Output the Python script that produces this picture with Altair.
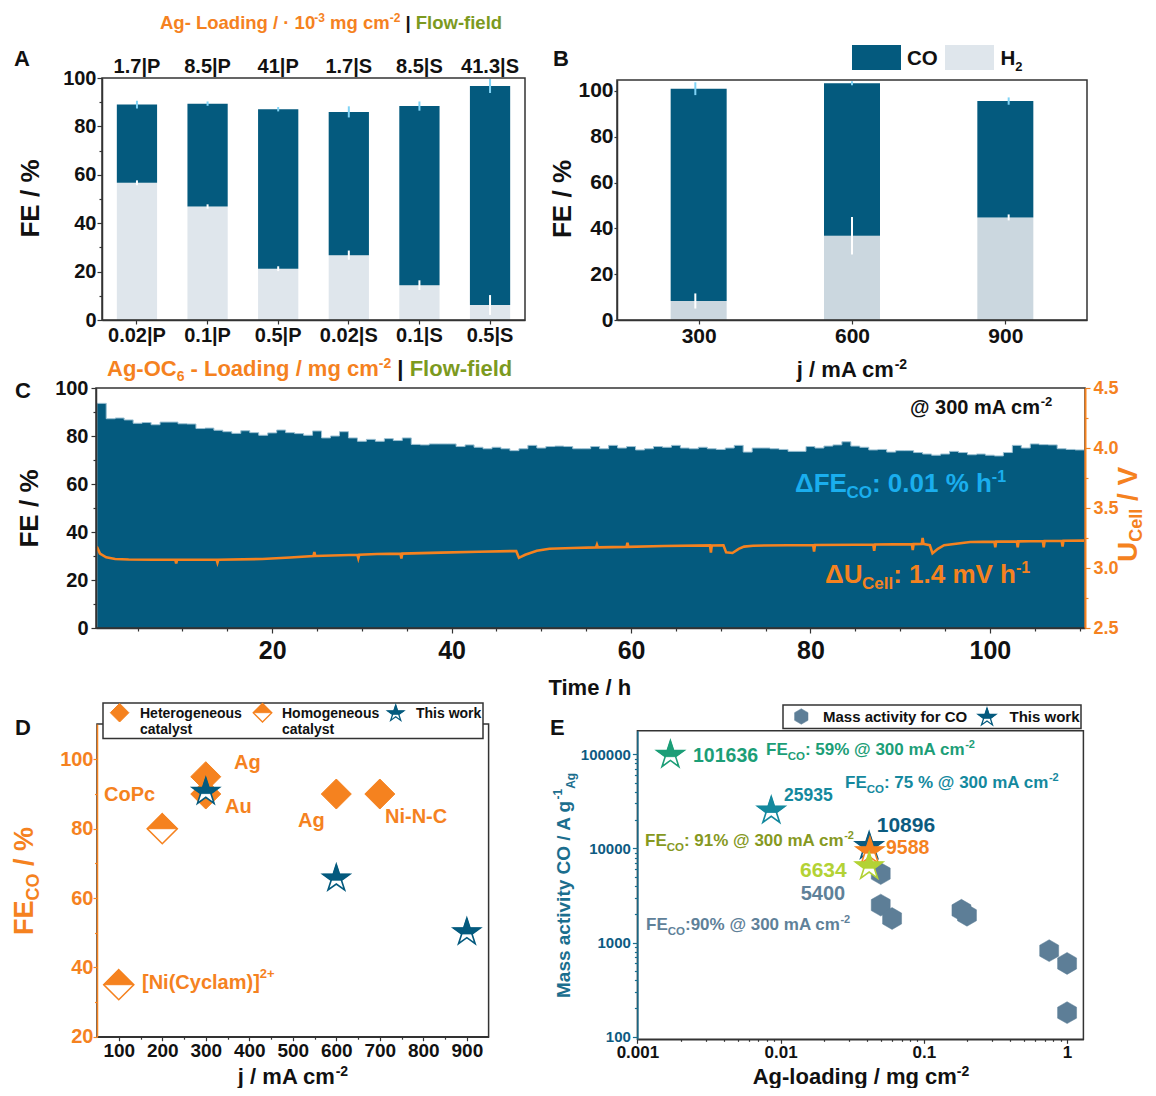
import altair as alt
import pandas as pd

# ======================= DATA =======================
# Panel A : FE vs catalyst loading | flow-field
a_cats = ["0.02|P", "0.1|P", "0.5|P", "0.02|S", "0.1|S", "0.5|S"]
a_top = ["1.7|P", "8.5|P", "41|P", "1.7|S", "8.5|S", "41.3|S"]
a_total = [89.0, 89.4, 87.1, 86.0, 88.4, 96.7]
a_total_err = [1.6, 0.9, 0.9, 2.3, 1.9, 2.9]
a_h2 = [56.7, 46.9, 21.2, 26.8, 14.4, 6.2]
a_h2_err = [1.0, 0.9, 1.0, 1.9, 2.0, 4.1]

# Panel B : FE vs current density
b_j = [300, 600, 900]
b_total = [101.0, 103.4, 95.6]
b_total_err = [2.8, 0.9, 1.6]
b_h2 = [8.3, 36.8, 44.8]
b_h2_err = [3.3, 8.2, 1.3]

# Panel C : long-term FE(CO) (1 h bins) and cell voltage
c_bin_start = 0.5
c_bin_width = 1.0
c_fe = [93.6, 87.2, 87.5, 86.7, 85.3, 85.6, 84.7, 85.8, 85.8, 85.1,
        85.0, 83.1, 83.3, 82.4, 81.8, 81.1, 82.2, 81.4, 80.3, 81.3,
        82.5, 81.4, 81.0, 80.3, 82.1, 79.2, 80.0, 81.8, 79.2, 77.8,
        78.6, 77.8, 78.9, 78.1, 79.2, 76.5, 76.3, 76.7, 76.7, 76.7,
        75.6, 76.3, 75.3, 74.7, 75.3, 74.7, 73.9, 74.7, 76.1, 75.0,
        75.6, 75.8, 75.6, 74.7, 74.7, 75.6, 74.7, 76.1, 75.0, 75.6,
        74.2, 74.7, 75.6, 75.3, 76.1, 75.0, 74.7, 75.3, 74.7, 74.4,
        75.0, 76.1, 73.3, 75.0, 75.0, 74.7, 74.4, 73.6, 73.6, 75.6,
        75.0, 75.8, 76.3, 77.6, 75.8, 75.3, 74.2, 74.4, 73.3, 73.9,
        73.9, 73.1, 72.5, 72.0, 72.5, 73.6, 73.1, 72.2, 72.5, 72.0,
        71.7, 73.1, 76.1, 75.0, 76.7, 76.4, 76.3, 74.7, 74.4, 74.2]
c_u_time = [0.45, 0.8, 1.5, 2.5, 4.0, 6.8, 9.2, 9.3, 9.4, 13.8, 13.9, 14.0,
            18.9, 22.0, 24.6, 24.7, 24.8, 29.5, 29.6, 29.7, 31.7, 34.3, 34.4,
            34.5, 38.8, 43.0, 47.2, 47.5, 48.2, 49.5, 50.9, 53.5, 56.1, 56.2,
            56.3, 59.5, 59.6, 59.7, 63.7, 68.8, 68.9, 69.0, 70.3, 70.6, 71.3,
            72.0, 72.6, 73.6, 80.3, 80.4, 80.5, 85.0, 87.0, 87.1, 87.2, 91.3,
            91.4, 91.5, 92.4, 92.5, 92.6, 93.3, 93.6, 94.2, 94.9, 97.8, 100.5,
            100.6, 100.7, 103.0, 103.1, 103.2, 105.9, 106.0, 106.1, 108.0,
            108.1, 108.2, 110.5]
c_u_volt = [3.178, 3.12, 3.089, 3.075, 3.071, 3.069, 3.069, 3.039, 3.069, 3.069,
            3.044, 3.069, 3.075, 3.088, 3.10, 3.133, 3.10, 3.11, 3.082, 3.11,
            3.117, 3.12, 3.08, 3.12, 3.128, 3.135, 3.142, 3.085, 3.11, 3.144,
            3.161, 3.167, 3.172, 3.194, 3.172, 3.176, 3.211, 3.176, 3.183, 3.188,
            3.128, 3.188, 3.189, 3.13, 3.125, 3.16, 3.178, 3.186, 3.192, 3.136,
            3.192, 3.194, 3.196, 3.144, 3.196, 3.199, 3.15, 3.199, 3.20, 3.25,
            3.20, 3.19, 3.122, 3.16, 3.19, 3.217, 3.22, 3.172, 3.22, 3.222,
            3.172, 3.222, 3.225, 3.172, 3.225, 3.227, 3.178, 3.227, 3.228]

# Panel D : literature comparison
d_het_j = [300, 300, 600, 700]
d_het_fe = [95, 90, 90, 90]
d_hom_j = [200, 100]
d_hom_fe = [80, 35]
d_this_j = [300, 600, 900]
d_this_fe = [91, 66, 50.5]

# Panel E : mass activity
e_hex_load = [0.05, 0.05, 0.06, 0.183, 0.2, 0.75, 1.0, 1.0]
e_hex_act = [5400, 2500, 1800, 2200, 1950, 820, 600, 180]
e_star_load = [0.0017, 0.0086, 0.0415, 0.042, 0.0415]
e_star_act = [101636, 25935, 10896, 9588, 6634]

# ======================= STYLE / LAYOUT =======================
FONT = "Liberation Sans"
W, H = 1140, 1080
DARK = "#045a7e"
H2A = "#dfe6ec"
H2B = "#cbd7df"
ERR_CO = "#7fd3f6"
ERR_H2 = "#ffffff"
ORANGE = "#f5821f"
OLIVE = "#7c9a1f"
LBLUE = "#1aaeee"
BLACK = "#111111"
FRAME = "#333333"
EDGE = "#9cc0d2"
E_AX = "#1b6e8e"
E_LAB = "#0d5b82"
HEXC = "#5d7e97"
GREEN = "#1c9e77"
TEAL = "#14899e"
DBLUE = "#0c5b80"
YGREEN = "#b3d235"
OLIVE2 = "#86991f"
GRAYB = "#5f8199"
e_star_colors = [GREEN, TEAL, DBLUE, ORANGE, YGREEN]

DIAMOND = "M0,-1L1,0L0,1L-1,0Z"
DIAMOND_TOP = "M-1,0L0,-1L1,0Z"
STAR = ("M0,-0.905L0.2245,-0.2135L0.9511,-0.2135L0.3633,0.2135L0.5878,0.9045"
        "L0,0.4775L-0.5878,0.9045L-0.3633,0.2135L-0.9511,-0.2135L-0.2245,-0.2135Z")
STAR_TOP = ("M0,-0.905L0.2245,-0.2135L0.9511,-0.2135L0.3633,0.2135"
            "L-0.3633,0.2135L-0.9511,-0.2135L-0.2245,-0.2135Z")
HEX = "M0,-1L0.866,-0.5L0.866,0.5L0,1L-0.866,0.5L-0.866,-0.5Z"


def P(v):
    """page pixel -> chart pixel (page has an 8px margin)"""
    return v - 8.0


# ---------- rich text helper (Arial/Liberation Sans Bold advance widths) ----------
AW = {c: 556 for c in "0123456789"}
AW.update({" ": 278, "!": 333, "%": 889, "(": 333, ")": 333, "+": 584, ",": 278,
           "-": 333, ".": 278, "/": 278, ":": 333, "@": 975, "[": 333, "]": 333,
           "|": 280, "\u00b7": 278, "\u0394": 700,
           "A": 722, "B": 722, "C": 722, "D": 722, "E": 667, "F": 611, "G": 778,
           "H": 722, "I": 278, "J": 556, "K": 722, "L": 611, "M": 833, "N": 722,
           "O": 778, "P": 667, "Q": 778, "R": 722, "S": 667, "T": 611, "U": 722,
           "V": 667, "W": 944, "X": 667, "Y": 667, "Z": 611,
           "a": 556, "b": 611, "c": 556, "d": 611, "e": 556, "f": 333, "g": 611,
           "h": 611, "i": 278, "j": 278, "k": 556, "l": 278, "m": 889, "n": 611,
           "o": 611, "p": 611, "q": 611, "r": 389, "s": 556, "t": 333, "u": 611,
           "v": 556, "w": 778, "x": 556, "y": 556, "z": 500})


def tw(s, size):
    return sum(AW.get(ch, 556) for ch in s) * size / 1000.0


RUNS = []


def run(x, y, segs, align="left", angle=0):
    segs = [tuple(s) + (0,) * (4 - len(s)) for s in segs]
    total = sum(tw(t, s) for t, s, c, sh in segs)
    pos = {"left": 0.0, "center": -total / 2.0, "right": -total}[align]
    for t, s, c, sh in segs:
        lead = len(t) - len(t.lstrip(" "))
        body = t.strip(" ")
        p = pos + tw(" " * lead, s)
        if body:
            if angle == 0:
                RUNS.append({"px": P(x + p), "py": P(y - sh), "txt": body, "fs": s, "col": c, "ang": 0})
            else:
                RUNS.append({"px": P(x - sh), "py": P(y - p), "txt": body, "fs": s, "col": c, "ang": 270})
        pos += tw(t, s)


def ax(orient, edge, values, test, size, lab_col, dom_col, major, minor, pad, label=None, dom_w=1.5):
    if orient == "left":
        off = -P(edge)
    elif orient == "right":
        off = P(edge) - W
    else:
        off = P(edge) - H
    kw = dict(orient=orient, offset=off, grid=False, title=None, labelFont=FONT,
              labelFontWeight="bold", labelFontSize=size, labelColor=lab_col,
              domainColor=dom_col, domainWidth=dom_w, tickColor=dom_col, tickWidth=1.2,
              labelPadding=pad, labelFlush=False, labelOverlap=False, labelAngle=0, zindex=1)
    if values is not None:
        kw["values"] = values
    if test:
        kw["labelExpr"] = "(" + test + ") ? " + (label or "datum.label") + " : ''"
        kw["tickSize"] = {"condition": {"test": test, "value": major}, "value": minor}
    else:
        kw["tickSize"] = major
        if label:
            kw["labelExpr"] = label
    return alt.Axis(**kw)


def pix(rows):
    return pd.DataFrame([{"px": P(x), "py": P(y)} for x, y in rows])


PX = alt.X("px:Q", scale=None, axis=None)
PY = alt.Y("py:Q", scale=None, axis=None)


def sym(rows, shape, size, fill, stroke="transparent", sw=0.0):
    return alt.Chart(pix(rows)).mark_point(shape=shape, size=size, filled=True, fill=fill,
                                           stroke=stroke, strokeWidth=sw, opacity=1).encode(x=PX, y=PY)


# ======================= PANEL A =======================
def A_X():
    return alt.Scale(type="band", domain=a_cats, range=[P(102), P(525)], paddingInner=0.43, paddingOuter=0.21)


def A_Y():
    return alt.Scale(domain=[0, 100], range=[P(320), P(78)], nice=False, zero=False)


dfa = pd.DataFrame({"cat": a_cats, "top": a_top, "tot": a_total, "h2": a_h2,
                    "z": [0] * len(a_cats)})
dfa["tlo"] = [t - e for t, e in zip(a_total, a_total_err)]
dfa["thi"] = [t + e for t, e in zip(a_total, a_total_err)]
dfa["hlo"] = [t - e for t, e in zip(a_h2, a_h2_err)]
dfa["hhi"] = [t + e for t, e in zip(a_h2, a_h2_err)]
AXA_X = ax("bottom", 320, None, None, 20, BLACK, FRAME, 4, 4, 1.5)
AXA_Y = ax("left", 102, list(range(0, 101, 10)), "datum.value % 20 === 0", 20, BLACK, FRAME, 5, 3, 1)
ba = alt.Chart(dfa)
layers_A = [
    ba.mark_bar(color=H2A).encode(x=alt.X("cat:N", scale=A_X(), axis=AXA_X),
                                  y=alt.Y("z:Q", scale=A_Y(), axis=AXA_Y), y2="h2:Q"),
    ba.mark_bar(color=DARK).encode(x=alt.X("cat:N", scale=A_X(), axis=None),
                                   y=alt.Y("h2:Q", scale=A_Y(), axis=None), y2="tot:Q"),
    ba.mark_rule(color=ERR_CO, strokeWidth=2).encode(x=alt.X("cat:N", scale=A_X(), axis=None),
                                                     y=alt.Y("tlo:Q", scale=A_Y(), axis=None), y2="thi:Q"),
    ba.mark_rule(color=ERR_H2, strokeWidth=2).encode(x=alt.X("cat:N", scale=A_X(), axis=None),
                                                     y=alt.Y("hlo:Q", scale=A_Y(), axis=None), y2="hhi:Q"),
    ba.mark_text(font=FONT, fontWeight="bold", fontSize=20, baseline="alphabetic", color=BLACK).encode(
        x=alt.X("cat:N", scale=A_X(), axis=None), y=alt.value(P(73)), text="top:N"),
]

# ======================= PANEL B =======================
def B_X():
    return alt.Scale(domain=[150, 1050], range=[P(617), P(1087)], nice=False, zero=False)


def B_Y():
    return alt.Scale(domain=[0, 104.8], range=[P(320), P(80)], nice=False, zero=False)


dfb = pd.DataFrame({"j": b_j, "tot": b_total, "h2": b_h2, "z": [0] * len(b_j)})
dfb["tlo"] = [t - e for t, e in zip(b_total, b_total_err)]
dfb["thi"] = [t + e for t, e in zip(b_total, b_total_err)]
dfb["hlo"] = [t - e for t, e in zip(b_h2, b_h2_err)]
dfb["hhi"] = [t + e for t, e in zip(b_h2, b_h2_err)]
AXB_X = ax("bottom", 320, [300, 600, 900], None, 21, BLACK, FRAME, 4, 4, 1)
AXB_Y = ax("left", 617, list(range(0, 101, 20)), None, 21, BLACK, FRAME, 3, 3, 1)
bb = alt.Chart(dfb)
layers_B = [
    bb.mark_bar(color=H2B, size=56).encode(x=alt.X("j:Q", scale=B_X(), axis=AXB_X),
                                           y=alt.Y("z:Q", scale=B_Y(), axis=AXB_Y), y2="h2:Q"),
    bb.mark_bar(color=DARK, size=56).encode(x=alt.X("j:Q", scale=B_X(), axis=None),
                                            y=alt.Y("h2:Q", scale=B_Y(), axis=None), y2="tot:Q"),
    bb.mark_rule(color=ERR_CO, strokeWidth=2).encode(x=alt.X("j:Q", scale=B_X(), axis=None),
                                                     y=alt.Y("tlo:Q", scale=B_Y(), axis=None), y2="thi:Q"),
    bb.mark_rule(color=ERR_H2, strokeWidth=2).encode(x=alt.X("j:Q", scale=B_X(), axis=None),
                                                     y=alt.Y("hlo:Q", scale=B_Y(), axis=None), y2="hhi:Q"),
]

# ======================= PANEL C =======================
def C_X():
    return alt.Scale(domain=[0.36, 110.6], range=[P(96), P(1085)], nice=False, zero=False)


def C_Y():
    return alt.Scale(domain=[0, 100], range=[P(628), P(388)], nice=False, zero=False)


def C_U():
    return alt.Scale(domain=[2.5, 4.5], range=[P(628), P(388)], nice=False, zero=False)


t_edges = [c_bin_start + c_bin_width * i for i in range(len(c_fe) + 1)]
dfc = pd.DataFrame({"t": t_edges, "fe": c_fe + [c_fe[-1]]})
AXC_X = ax("bottom", 628, list(range(5, 111, 5)), "datum.value % 20 === 0", 25, BLACK, FRAME, 5, 3, 5)
AXC_Y = ax("left", 96, list(range(0, 101, 10)), "datum.value % 20 === 0", 20, BLACK, FRAME, 5, 3, 3)
AXC_U = ax("right", 1085, [2.5 + 0.25 * i for i in range(9)],
           "abs(datum.value*2 - round(datum.value*2)) < 0.001", 18, ORANGE, ORANGE, 5, 3, 3,
           label="format(datum.value, '.1f')", dom_w=2)
dfu = pd.DataFrame({"t": c_u_time, "u": c_u_volt})
layers_C = [
    alt.Chart(dfc).mark_area(interpolate="step-after", color=DARK, opacity=1).encode(
        x=alt.X("t:Q", scale=C_X(), axis=AXC_X), y=alt.Y("fe:Q", scale=C_Y(), axis=AXC_Y)),
    alt.Chart(dfc).mark_line(interpolate="step-after", color=EDGE, strokeWidth=1).encode(
        x=alt.X("t:Q", scale=C_X(), axis=None), y=alt.Y("fe:Q", scale=C_Y(), axis=None)),
    alt.Chart(dfu).mark_line(color=ORANGE, strokeWidth=2.6).encode(
        x=alt.X("t:Q", scale=C_X(), axis=None), y=alt.Y("u:Q", scale=C_U(), axis=AXC_U)),
]

# ======================= PANEL D =======================
def D_X():
    return alt.Scale(domain=[50, 950], range=[P(97), P(488.6)], nice=False, zero=False)


def D_Y():
    return alt.Scale(domain=[20, 110.2], range=[P(1036.7), P(724)], nice=False, zero=False)


AXD_X = ax("bottom", 1036.7, list(range(100, 901, 50)), "datum.value % 100 === 0", 19, BLACK, FRAME, 4, 2.5, 0.5)
AXD_Y = ax("left", 97, list(range(20, 101, 10)), "datum.value % 20 === 0", 20, ORANGE, ORANGE, 4, 2.5, 0)
dhet = pd.DataFrame({"j": d_het_j, "fe": d_het_fe})
dhom = pd.DataFrame({"j": d_hom_j, "fe": d_hom_fe})
dthis = pd.DataFrame({"j": d_this_j, "fe": d_this_fe})


def dxy():
    return dict(x=alt.X("j:Q", scale=D_X(), axis=None), y=alt.Y("fe:Q", scale=D_Y(), axis=None))


layers_D = [
    alt.Chart(dhet).mark_point(shape=DIAMOND, size=900, filled=True, fill=ORANGE, stroke=ORANGE,
                               strokeWidth=1, opacity=1).encode(
        x=alt.X("j:Q", scale=D_X(), axis=AXD_X), y=alt.Y("fe:Q", scale=D_Y(), axis=AXD_Y)),
    alt.Chart(dhom).mark_point(shape=DIAMOND, size=900, filled=True, fill="white", stroke=ORANGE,
                               strokeWidth=1.6, opacity=1).encode(**dxy()),
    alt.Chart(dhom).mark_point(shape=DIAMOND_TOP, size=900, filled=True, fill=ORANGE, stroke=ORANGE,
                               strokeWidth=1, opacity=1).encode(**dxy()),
    alt.Chart(dthis).mark_point(shape=STAR, size=800, filled=True, fill="white", stroke=DARK,
                                strokeWidth=1.6, opacity=1).encode(**dxy()),
    alt.Chart(dthis).mark_point(shape=STAR_TOP, size=800, filled=True, fill=DARK, stroke=DARK,
                                strokeWidth=0.8, opacity=1).encode(**dxy()),
]

# ======================= PANEL E =======================
def E_X():
    return alt.Scale(type="log", domain=[0.001, 1.3], range=[P(637.4), P(1083.4)], nice=False)


def E_Y():
    return alt.Scale(type="log", domain=[93.8, 178000], range=[P(1039.3), P(730.7)], nice=False)


LOGTEST = "abs(log(datum.value)/LN10 - round(log(datum.value)/LN10)) < 0.001"
ex_vals = [float(f"{m}e{e}") for e in range(-3, 0) for m in range(1, 10)] + [1.0]
ey_vals = [float(f"{m}e{e}") for e in range(2, 5) for m in range(1, 10)] + [1e5]
AXE_X = ax("bottom", 1039.3, ex_vals, LOGTEST, 17, BLACK, FRAME, 4, 2, 1, label="format(datum.value, '~g')")
AXE_Y = ax("left", 637.4, ey_vals, LOGTEST, 15, E_LAB, E_AX, 5, 3, 2, label="format(datum.value, '~g')")
dhex = pd.DataFrame({"l": e_hex_load, "a": e_hex_act})
layers_E = [alt.Chart(dhex).mark_point(shape=HEX, size=480, filled=True, fill=HEXC, stroke=HEXC,
                                       strokeWidth=0.5, opacity=1).encode(
    x=alt.X("l:Q", scale=E_X(), axis=AXE_X), y=alt.Y("a:Q", scale=E_Y(), axis=AXE_Y))]
for i in range(len(e_star_load)):
    ds = pd.DataFrame({"l": [e_star_load[i]], "a": [e_star_act[i]]})
    col = e_star_colors[i]
    layers_E.append(alt.Chart(ds).mark_point(shape=STAR, size=820, filled=True, fill="white", stroke=col,
                                             strokeWidth=1.6, opacity=1).encode(
        x=alt.X("l:Q", scale=E_X(), axis=None), y=alt.Y("a:Q", scale=E_Y(), axis=None)))
    layers_E.append(alt.Chart(ds).mark_point(shape=STAR_TOP, size=820, filled=True, fill=col, stroke=col,
                                             strokeWidth=0.8, opacity=1).encode(
        x=alt.X("l:Q", scale=E_X(), axis=None), y=alt.Y("a:Q", scale=E_Y(), axis=None)))

# ======================= FRAMES, LEGENDS =======================
frames = [(102, 78, 525, 320), (617, 80, 1087, 320), (96, 388, 1085, 628),
          (97, 724, 488.6, 1036.7), (637.4, 730.7, 1083.4, 1039.3)]
boxes = [(103, 703, 483, 738.5), (783, 705, 1081, 728.5)]
swatches = [(852, 45, 901, 70, DARK), (945, 45, 994, 70, H2A)]


def rect_df(rows):
    return pd.DataFrame([{"x1": P(r[0]), "y1": P(r[1]), "x2": P(r[2]), "y2": P(r[3]),
                          "f": (r[4] if len(r) > 4 else "white")} for r in rows])


RX = alt.X("x1:Q", scale=None, axis=None)
RY = alt.Y("y1:Q", scale=None, axis=None)
frame_layer = alt.Chart(rect_df(frames)).mark_rect(fill="transparent", stroke=FRAME, strokeWidth=1.5).encode(
    x=RX, x2="x2:Q", y=RY, y2="y2:Q")
box_layer = alt.Chart(rect_df(boxes)).mark_rect(fill="white", stroke=FRAME, strokeWidth=1.5).encode(
    x=RX, x2="x2:Q", y=RY, y2="y2:Q")
swatch_layer = alt.Chart(rect_df(swatches)).mark_rect().encode(
    x=RX, x2="x2:Q", y=RY, y2="y2:Q", fill=alt.Fill("f:N", scale=None))

leg_syms = [
    sym([(119.6, 712.7)], DIAMOND, 346, ORANGE, ORANGE, 1),
    sym([(262.5, 712.7)], DIAMOND, 346, "white", ORANGE, 1.3),
    sym([(262.5, 712.7)], DIAMOND_TOP, 346, ORANGE, ORANGE, 0.8),
    sym([(395.7, 712.7)], STAR, 290, "white", DARK, 1.3),
    sym([(395.7, 712.7)], STAR_TOP, 290, DARK, DARK, 0.6),
    sym([(801.3, 716.5)], HEX, 240, HEXC, HEXC, 0.5),
    sym([(987, 716.5)], STAR, 346, "white", DARK, 1.3),
    sym([(987, 716.5)], STAR_TOP, 346, DARK, DARK, 0.6),
]

# ======================= TEXT =======================
run(14, 66, [("A", 22, BLACK)])
run(553, 65.5, [("B", 22, BLACK)])
run(15, 398, [("C", 22, BLACK)])
run(15, 735, [("D", 22, BLACK)])
run(550, 735, [("E", 22, BLACK)])
# panel A
run(160, 29.3, [("Ag- Loading / \u00b7 10", 18.5, ORANGE), ("-3", 12, ORANGE, 7), (" mg cm", 18.5, ORANGE),
                ("-2", 12, ORANGE, 7), (" |", 18.5, BLACK), (" Flow-field", 18.5, OLIVE)])
run(38.6, 198.5, [("FE / %", 26, BLACK)], align="center", angle=270)
# panel B
run(907, 65, [("CO", 20.5, BLACK)])
run(1000.5, 65, [("H", 20.5, BLACK), ("2", 13, BLACK, -5.5)])
run(571.4, 199, [("FE / %", 26, BLACK)], align="center", angle=270)
run(852, 376.5, [("j / mA cm", 22, BLACK), ("-2", 14, BLACK, 8)], align="center")
# panel C
run(107, 376, [("Ag-OC", 22, ORANGE), ("6", 14, ORANGE, -5), (" - Loading / mg cm", 22, ORANGE),
               ("-2", 14, ORANGE, 8), (" |", 22, BLACK), (" Flow-field", 22, OLIVE)])
run(910, 414, [("@ 300 mA cm", 20, BLACK), ("-2", 13, BLACK, 8)])
run(795, 491.7, [("\u0394FE", 26, LBLUE), ("CO", 17, LBLUE, -6), (": 0.01 % h", 26, LBLUE), ("-1", 16, LBLUE, 10)])
run(825, 583.3, [("\u0394U", 26, ORANGE), ("Cell", 17, ORANGE, -6), (": 1.4 mV h", 26, ORANGE), ("-1", 16, ORANGE, 10)])
run(38, 508.5, [("FE / %", 26, BLACK)], align="center", angle=270)
run(590, 695, [("Time / h", 22, BLACK)], align="center")
run(1137, 562, [("U", 28, ORANGE), ("Cell", 18, ORANGE, -5), (" / V", 28, ORANGE)], angle=270)
# panel D
run(140, 717.7, [("Heterogeneous", 14, BLACK)])
run(140, 734, [("catalyst", 14, BLACK)])
run(282, 717.7, [("Homogeneous", 14, BLACK)])
run(282, 734, [("catalyst", 14, BLACK)])
run(416, 717.7, [("This work", 14, BLACK)])
run(234, 769.3, [("Ag", 20, ORANGE)])
run(104, 800.7, [("CoPc", 20, ORANGE)])
run(225, 812.7, [("Au", 20, ORANGE)])
run(298, 827, [("Ag", 20, ORANGE)])
run(385, 823, [("Ni-N-C", 20, ORANGE)])
run(142, 988.5, [("[Ni(Cyclam)]", 20, ORANGE), ("2+", 13, ORANGE, 10.5)])
run(33, 935, [("FE", 27, ORANGE), ("CO", 18, ORANGE, -6), (" / %", 27, ORANGE)], angle=270)
run(293, 1084, [("j / mA cm", 22, BLACK), ("-2", 14, BLACK, 8)], align="center")
# panel E
run(823, 721.5, [("Mass activity for CO", 15, BLACK)])
run(1009.5, 721.5, [("This work", 15, BLACK)])
run(693, 761.7, [("101636", 19.5, GREEN)])
run(766, 755, [("FE", 17, GREEN), ("CO", 11.5, GREEN, -5), (": 59% @ 300 mA cm", 17, GREEN), ("-2", 11, GREEN, 7)])
run(845, 788.3, [("FE", 17, TEAL), ("CO", 11.5, TEAL, -5), (": 75 % @ 300 mA cm", 17, TEAL), ("-2", 11, TEAL, 7)])
run(784, 800.7, [("25935", 17.5, TEAL)])
run(876.7, 831.7, [("10896", 21, DBLUE)])
run(886, 854, [("9588", 19.5, ORANGE)])
run(645, 845.7, [("FE", 17, OLIVE2), ("CO", 11.5, OLIVE2, -5), (": 91% @ 300 mA cm", 17, OLIVE2), ("-2", 11, OLIVE2, 7)])
run(800, 876.7, [("6634", 21, YGREEN)])
run(800.7, 900, [("5400", 20, GRAYB)])
run(646, 930, [("FE", 17, GRAYB), ("CO", 11.5, GRAYB, -5), (":90% @ 300 mA cm", 17, GRAYB), ("-2", 11, GRAYB, 7)])
run(570, 998, [("Mass activity CO / A g", 19, E_AX), ("-1", 12, E_AX, 8), ("Ag", 12, E_AX, -5)], angle=270)
run(861, 1084, [("Ag-loading / mg cm", 22, BLACK), ("-2", 14, BLACK, 8)], align="center")

text_layer = alt.Chart(pd.DataFrame(RUNS)).mark_text(
    align="left", baseline="alphabetic", font=FONT, fontWeight="bold").encode(
    x=PX, y=PY, text=alt.Text("txt:N"), color=alt.Color("col:N", scale=None),
    size=alt.Size("fs:Q", scale=None), angle=alt.Angle("ang:Q", scale=None))

chart = alt.layer(
    *layers_A, *layers_B, *layers_C, *layers_D, *layers_E,
    frame_layer, box_layer, swatch_layer, *leg_syms, text_layer
).resolve_scale(x="independent", y="independent").resolve_axis(
    x="independent", y="independent"
).properties(
    width=W, height=H, autosize=alt.AutoSizeParams(type="none"), padding=0
).configure_view(stroke="transparent")

chart.save("out.html", embed_options={"renderer": "svg", "actions": False})
